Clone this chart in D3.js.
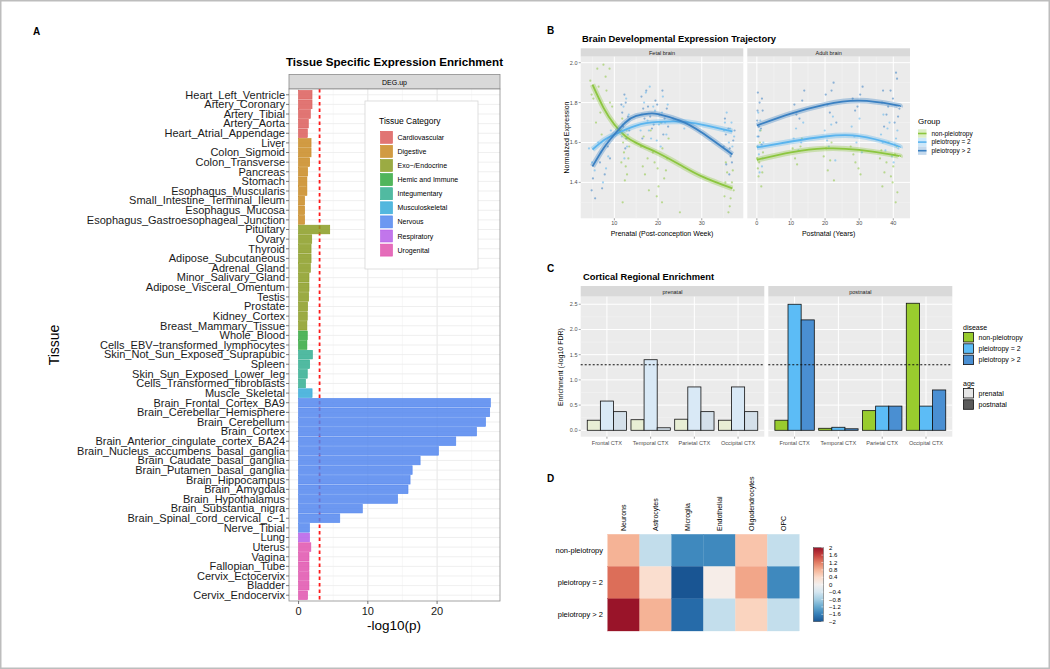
<!DOCTYPE html>
<html><head><meta charset="utf-8">
<script src="https://cdn.jsdelivr.net/npm/d3@7"></script>
<style>body{margin:0;background:#fff}svg{display:block;font-family:"Liberation Sans",Arial,sans-serif}</style>
</head><body><svg id="c" width="1050" height="669"></svg>
<script>
// ================= DATA =================
// Panel A
const tissues = ["Heart_Left_Ventricle","Artery_Coronary","Artery_Tibial","Artery_Aorta","Heart_Atrial_Appendage","Liver","Colon_Sigmoid","Colon_Transverse","Pancreas","Stomach","Esophagus_Muscularis","Small_Intestine_Terminal_Ileum","Esophagus_Mucosa","Esophagus_Gastroesophageal_Junction","Pituitary","Ovary","Thyroid","Adipose_Subcutaneous","Adrenal_Gland","Minor_Salivary_Gland","Adipose_Visceral_Omentum","Testis","Prostate","Kidney_Cortex","Breast_Mammary_Tissue","Whole_Blood","Cells_EBV\u2212transformed_lymphocytes","Skin_Not_Sun_Exposed_Suprapubic","Spleen","Skin_Sun_Exposed_Lower_leg","Cells_Transformed_fibroblasts","Muscle_Skeletal","Brain_Frontal_Cortex_BA9","Brain_Cerebellar_Hemisphere","Brain_Cerebellum","Brain_Cortex","Brain_Anterior_cingulate_cortex_BA24","Brain_Nucleus_accumbens_basal_ganglia","Brain_Caudate_basal_ganglia","Brain_Putamen_basal_ganglia","Brain_Hippocampus","Brain_Amygdala","Brain_Hypothalamus","Brain_Substantia_nigra","Brain_Spinal_cord_cervical_c\u22121","Nerve_Tibial","Lung","Uterus","Vagina","Fallopian_Tube","Cervix_Ectocervix","Bladder","Cervix_Endocervix"];
const tissueLogP = [1.94,1.94,1.7,1.4,1.26, 1.8,1.8,1.6,1.3,1.2,1.2,0.87,0.87,0.87, 4.5,1.9,1.8,1.8,1.7,1.5,1.5,1.45,1.3,1.25,1.2, 1.25,1.2, 2.0,1.6,1.25,1.0, 1.95, 27.7,27.6,27.0,25.7,22.7,20.2,17.55,16.4,16.1,15.8,14.3,9.2,5.95,1.58, 1.58, 1.77,1.5,1.5,1.5,1.5,1.3];
const tissueCategories = ["Cardiovascular","Digestive","Exo\u2212/Endocrine","Hemic and Immune","Integumentary","Musculoskeletal","Nervous","Respiratory","Urogenital"];
const tissuesPerCategory = [5,9,11,2,4,1,14,1,6];
const categoryColors = ["#dc5d5a","#c98a22","#8a9c22","#33a83e","#33ae90","#35aad8","#5286ee","#b65ee8","#e052ae"];
const thresholdA = 3.03;
const xTicksA = [0,10,20];

// Panel B
const fetalCurves = {
  "non-pleiotropy": [[5,1.89],[7.5,1.775],[10,1.69],[12.5,1.632],[15,1.598],[17.5,1.572],[20,1.547],[25,1.488],[30,1.43],[37,1.37]],
  "pleiotropy = 2": [[5,1.565],[7.5,1.61],[10,1.64],[15,1.685],[20,1.703],[25,1.705],[30,1.69],[37,1.655]],
  "pleiotropy > 2": [[5,1.48],[7.5,1.57],[10,1.64],[12.5,1.7],[15,1.733],[18,1.745],[20,1.742],[25,1.71],[30,1.65],[37,1.54]]
};
const adultCurves = {
  "non-pleiotropy": [[0,1.513],[10,1.55],[20,1.57],[30,1.563],[40,1.538],[42,1.53]],
  "pleiotropy = 2": [[0,1.575],[10,1.605],[20,1.63],[30,1.632],[40,1.59],[42,1.575]],
  "pleiotropy > 2": [[0,1.685],[10,1.745],[20,1.79],[30,1.81],[40,1.79],[42,1.78]]
};
const fetalPoints = {
  "non-pleiotropy": [[4.5,1.91],[5.2,1.82],[6.1,1.97],[6.8,1.75],[7.5,1.99],[8.2,1.86],[8.9,1.97],[5.8,1.70],[7.1,1.64],[9.5,1.78],[11.8,1.72],[12.2,1.55],[12.6,1.48],[13.0,1.62],[12.4,1.41],[11.9,1.30],[13.2,1.52],[12.8,1.66],[16.1,1.58],[17.0,1.44],[18.3,1.66],[19.2,1.50],[20.1,1.38],[21.0,1.57],[21.8,1.46],[19.7,1.33],[22.4,1.62],[17.6,1.52],[20.5,1.70],[25.0,1.25],[35.2,1.33],[35.8,1.45],[36.4,1.28],[36.9,1.40],[37.3,1.36],[35.5,1.50],[36.1,1.25],
    [4.8,1.84],[6.4,1.88],[8.0,1.93],[9.0,1.80],[12.0,1.60],[12.9,1.44],[13.4,1.58],[11.6,1.50],[16.5,1.48],[17.9,1.36],[18.8,1.55],[19.9,1.47],[21.4,1.42],[22.1,1.52],[20.9,1.30],[16.7,1.63],[35.4,1.40],[36.6,1.32],[37.1,1.46]],
  "pleiotropy = 2": [[4.2,1.57],[5.5,1.46],[6.3,1.60],[7.4,1.40],[8.6,1.53],[9.2,1.66],[11.7,1.63],[12.1,1.78],[12.5,1.70],[12.9,1.58],[13.3,1.74],[12.3,1.52],[16.0,1.66],[16.8,1.80],[17.6,1.71],[18.4,1.62],[19.3,1.76],[20.2,1.69],[21.1,1.83],[21.9,1.64],[20.6,1.58],[17.2,1.85],[23.5,1.72],[35.1,1.66],[35.7,1.75],[36.2,1.60],[36.8,1.70],[37.4,1.63],[35.9,1.56],
    [4.9,1.50],[6.9,1.55],[8.1,1.47],[11.9,1.69],[12.7,1.82],[13.1,1.64],[16.3,1.74],[17.9,1.66],[18.9,1.78],[19.7,1.61],[20.9,1.75],[21.6,1.70],[22.2,1.79],[18.1,1.88],[35.3,1.70],[36.5,1.67],[37.0,1.58],[26.0,1.67]],
  "pleiotropy > 2": [[4.8,1.36],[5.6,1.32],[6.7,1.50],[7.8,1.44],[8.5,1.58],[11.6,1.79],[12.0,1.68],[12.3,1.84],[12.7,1.62],[13.1,1.73],[12.5,1.57],[16.2,1.83],[16.9,1.72],[17.7,1.78],[18.6,1.67],[19.4,1.81],[20.3,1.74],[21.2,1.64],[22.0,1.77],[20.8,1.70],[16.4,1.62],[35.0,1.58],[35.6,1.49],[36.1,1.67],[36.6,1.53],[37.2,1.61],[36.3,1.44],[35.3,1.72],
    [5.1,1.42],[7.2,1.37],[9.0,1.52],[11.8,1.75],[12.6,1.80],[13.4,1.66],[16.6,1.77],[17.3,1.86],[18.2,1.73],[19.0,1.69],[19.8,1.79],[21.5,1.72],[22.3,1.68],[21.0,1.86],[35.5,1.64],[36.4,1.57],[36.9,1.50],[37.5,1.66]]
};
const adultPoints = {
  "non-pleiotropy": [[0.1,1.52],[0.5,1.43],[0.9,1.60],[1.3,1.38],[1.8,1.55],[0.3,1.47],[1.1,1.66],[10.5,1.57],[11.8,1.49],[13.2,1.62],[19.6,1.53],[20.8,1.46],[21.9,1.60],[22.6,1.41],[27.5,1.58],[28.9,1.50],[30.4,1.44],[36.1,1.52],[37.4,1.45],[38.6,1.60],[39.8,1.40],[40.5,1.54],[41.2,1.35],[40.0,1.48],[36.8,1.38],
    [0.2,1.58],[0.7,1.50],[1.6,1.45],[11.2,1.52],[12.8,1.58],[20.3,1.57],[21.5,1.51],[28.3,1.54],[29.8,1.47],[36.5,1.56],[38.0,1.50],[39.3,1.43],[41.0,1.58],[40.7,1.30]],
  "pleiotropy = 2": [[0.2,1.63],[0.6,1.54],[1.0,1.71],[1.5,1.48],[1.9,1.60],[0.4,1.75],[0.8,1.45],[10.8,1.62],[12.2,1.56],[13.6,1.70],[19.9,1.66],[21.1,1.58],[22.3,1.73],[23.0,1.51],[27.8,1.68],[29.2,1.60],[30.8,1.55],[36.4,1.64],[37.7,1.56],[38.9,1.70],[40.1,1.50],[40.8,1.62],[41.5,1.57],[37.1,1.74],
    [0.3,1.58],[0.9,1.66],[1.7,1.52],[11.5,1.67],[13.0,1.60],[20.6,1.61],[21.8,1.69],[28.6,1.63],[30.1,1.72],[36.9,1.60],[38.3,1.67],[39.6,1.53],[41.2,1.66],[40.4,1.59]],
  "pleiotropy > 2": [[0.1,1.71],[0.5,1.63],[0.8,1.80],[1.2,1.67],[1.7,1.76],[0.3,1.85],[1.4,1.59],[11.0,1.79],[12.5,1.72],[13.9,1.86],[20.2,1.84],[21.4,1.75],[22.5,1.90],[23.3,1.70],[28.1,1.82],[29.5,1.78],[31.0,1.88],[36.7,1.80],[38.0,1.74],[39.2,1.86],[40.4,1.70],[41.1,1.92],[41.8,1.77],[37.3,1.68],
    [0.2,1.76],[0.6,1.68],[1.5,1.82],[11.6,1.74],[13.3,1.81],[20.7,1.79],[21.9,1.86],[28.8,1.76],[30.3,1.84],[37.0,1.86],[38.5,1.78],[39.9,1.82],[41.4,1.73],[40.8,1.95]]
};
const groups = ["non-pleiotropy","pleiotropy = 2","pleiotropy > 2"];
const groupColors = ["#8cc63f","#5ab4ee","#3a80c2"];
const fetalTicks = [10,20,30];
const adultTicks = [0,10,20,30,40];
const yTicksB = [1.4,1.6,1.8,2.0];

// Panel C
const regions = ["Frontal CTX","Temporal CTX","Parietal CTX","Occipital CTX"];
const prenatalEnrich = { "non-pleiotropy":[0.2,0.21,0.22,0.2], "pleiotropy = 2":[0.58,1.4,0.86,0.86], "pleiotropy > 2":[0.37,0.05,0.37,0.37] };
const postnatalEnrich = { "non-pleiotropy":[0.2,0.04,0.39,2.52], "pleiotropy = 2":[2.5,0.06,0.48,0.48], "pleiotropy > 2":[2.19,0.03,0.48,0.8] };
const diseaseColors = ["#99cc2e","#5cbcf6","#4a8fd2"];
const prenatalFills = ["#e8eed4","#d9e9f6","#d4e0ea"];
const fdrLine = 1.3;
const yTicksC = [0,0.5,1,1.5,2,2.5];

// Panel D
const cellTypes = ["Neurons","Astrocytes","Microglia","Endothelial","Oligodendrocytes","OPC"];
const heatRows = ["non-pleiotropy","pleiotropy = 2","pleiotropy > 2"];
const heatValues = [
  [0.8,-0.56,-1.5,-1.5,0.65,-0.55],
  [1.3,0.37,-2.0,0.1,0.9,-1.5],
  [2.0,0.8,-1.8,-0.55,0.5,-0.55]
];
const legendTicksD = [2,1.6,1.2,0.8,0.4,0,-0.4,-0.8,-1.2,-1.6,-2];

// ================= DRAW =================
const svg = d3.select("#c");
svg.append("rect").attr("x",0.75).attr("y",0.75).attr("width",1048.5).attr("height",667.5).attr("fill","#fff").attr("stroke","#bdbdbd").attr("stroke-width",1.5);
const fmtMinus = s => String(s).replace("-", "\u2212");
function txt(g, x, y, s, o={}) {
  const t = g.append("text").attr("x",x).attr("y",y).text(s)
    .attr("font-size",o.size||8).attr("fill",o.fill||"#000")
    .attr("text-anchor",o.anchor||"start");
  if (o.bold) t.attr("font-weight","bold");
  if (o.rotate) t.attr("transform",`rotate(${o.rotate},${x},${y})`);
  if (o.len) t.attr("textLength",o.len).attr("lengthAdjust","spacingAndGlyphs");
  return t;
}
// panel letters
txt(svg,33,35,"A",{size:10,bold:true});
txt(svg,547,34,"B",{size:10,bold:true});
txt(svg,547,272,"C",{size:10,bold:true});
txt(svg,547,482,"D",{size:10,bold:true});

// ---------- Panel A ----------
(function(){
  const g = svg.append("g");
  const L=289,R=500,T=89,B=601;
  const x = d3.scaleLinear().domain([-1.385,29.085]).range([L,R]);
  const y = d3.scaleBand().domain(tissues).range([T,B]).paddingInner(0.1).paddingOuter(0.15);
  const catOf = [];
  tissuesPerCategory.forEach((n,i)=>{ for(let k=0;k<n;k++) catOf.push(i); });
  txt(g,394.5,66,"Tissue Specific Expression Enrichment",{size:11.5,bold:true,anchor:"middle",len:217});
  g.append("rect").attr("x",L).attr("y",74.5).attr("width",R-L).attr("height",T-74.5).attr("fill","#d9d9d9").attr("stroke","#8c8c8c").attr("stroke-width",0.8);
  txt(g,(L+R)/2,84.5,"DEG.up",{size:7,anchor:"middle"});
  g.append("rect").attr("x",L).attr("y",T).attr("width",R-L).attr("height",B-T).attr("fill","#fff");
  [5,15,25].forEach(v=>g.append("line").attr("x1",x(v)).attr("x2",x(v)).attr("y1",T).attr("y2",B).attr("stroke","#f3f3f3").attr("stroke-width",0.6));
  xTicksA.forEach(v=>g.append("line").attr("x1",x(v)).attr("x2",x(v)).attr("y1",T).attr("y2",B).attr("stroke","#e6e6e6").attr("stroke-width",1));
  tissues.forEach(t=>{const c=y(t)+y.bandwidth()/2; g.append("line").attr("x1",L).attr("x2",R).attr("y1",c).attr("y2",c).attr("stroke","#ebebeb").attr("stroke-width",0.8);});
  g.append("line").attr("x1",x(thresholdA)).attr("x2",x(thresholdA)).attr("y1",T).attr("y2",B).attr("stroke","#ff1a1a").attr("stroke-width",1.8).attr("stroke-dasharray","3.5,3");
  g.selectAll(".barA").data(tissues).enter().append("rect")
    .attr("x",x(0)).attr("y",d=>y(d)).attr("height",y.bandwidth())
    .attr("width",(d,i)=>x(tissueLogP[i])-x(0))
    .attr("fill",(d,i)=>categoryColors[catOf[i]]).attr("fill-opacity",0.85)
    .attr("stroke",(d,i)=>categoryColors[catOf[i]]).attr("stroke-width",0.6);
  g.append("rect").attr("x",L).attr("y",T).attr("width",R-L).attr("height",B-T).attr("fill","none").attr("stroke","#8c8c8c").attr("stroke-width",0.8);
  tissues.forEach(t=>{const c=y(t)+y.bandwidth()/2;
    g.append("line").attr("x1",L-3).attr("x2",L).attr("y1",c).attr("y2",c).attr("stroke","#555").attr("stroke-width",0.8);
    txt(g,L-4,c+3.8,t,{size:11,anchor:"end",fill:"#1a1a1a"});
  });
  xTicksA.forEach(v=>{
    g.append("line").attr("x1",x(v)).attr("x2",x(v)).attr("y1",B).attr("y2",B+3).attr("stroke","#555").attr("stroke-width",0.8);
    txt(g,x(v),615,String(v),{size:11,anchor:"middle",fill:"#1a1a1a"});
  });
  txt(g,394,630,"-log10(p)",{size:13.5,anchor:"middle"});
  txt(g,59,345,"Tissue",{size:14,anchor:"middle",rotate:-90});
  g.append("rect").attr("x",365).attr("y",101).attr("width",113).attr("height",168).attr("fill","#fff").attr("stroke","#d6d6d6").attr("stroke-width",0.8);
  txt(g,379,124,"Tissue Category",{size:8.5});
  tissueCategories.forEach((c,i)=>{
    const cy = 137.3 + i*14.1;
    g.append("rect").attr("x",380.5).attr("y",cy-6).attr("width",12).attr("height",12)
      .attr("fill",categoryColors[i]).attr("fill-opacity",0.85).attr("stroke",categoryColors[i]).attr("stroke-width",0.6);
    txt(g,397.5,cy+2.5,c,{size:7});
  });
})();

// ---------- Panel B ----------
(function(){
  const g = svg.append("g");
  const T=56.7,B=218.3;
  const y = d3.scaleLinear().domain([1.22,2.03]).range([B,T]);
  const facets = [
    {L:580.7,R:743.3,dom:[2.3,39.5],ticks:fetalTicks,minor:[5,15,25,35],name:"Fetal brain",curves:fetalCurves,pts:fetalPoints,title:"Prenatal (Post-conception Week)"},
    {L:747.3,R:910,dom:[-2.8,44.9],ticks:adultTicks,minor:[5,15,25,35],name:"Adult brain",curves:adultCurves,pts:adultPoints,title:"Postnatal (Years)"}
  ];
  txt(g,582,42,"Brain Developmental Expression Trajectory",{size:9.5,bold:true,len:194});
  facets.forEach(f=>{
    const x = d3.scaleLinear().domain(f.dom).range([f.L,f.R]);
    g.append("rect").attr("x",f.L).attr("y",48.3).attr("width",f.R-f.L).attr("height",8.4).attr("fill","#d9d9d9");
    txt(g,(f.L+f.R)/2,54.8,f.name,{size:5.5,anchor:"middle",fill:"#1a1a1a"});
    g.append("rect").attr("x",f.L).attr("y",T).attr("width",f.R-f.L).attr("height",B-T).attr("fill","#ebebeb");
    [1.3,1.5,1.7,1.9].forEach(v=>g.append("line").attr("x1",f.L).attr("x2",f.R).attr("y1",y(v)).attr("y2",y(v)).attr("stroke","#f5f5f5").attr("stroke-width",0.5));
    f.minor.forEach(v=>g.append("line").attr("x1",x(v)).attr("x2",x(v)).attr("y1",T).attr("y2",B).attr("stroke","#f5f5f5").attr("stroke-width",0.5));
    yTicksB.forEach(v=>g.append("line").attr("x1",f.L).attr("x2",f.R).attr("y1",y(v)).attr("y2",y(v)).attr("stroke","#fff").attr("stroke-width",1));
    f.ticks.forEach(v=>g.append("line").attr("x1",x(v)).attr("x2",x(v)).attr("y1",T).attr("y2",B).attr("stroke","#fff").attr("stroke-width",1));
    groups.forEach((gr,i)=>{
      g.selectAll(null).data(f.pts[gr]).enter().append("circle")
        .attr("cx",d=>x(d[0])).attr("cy",d=>y(d[1])).attr("r",1.1)
        .attr("fill",groupColors[i]).attr("fill-opacity",0.55);
    });
    const line = d3.line().x(d=>x(d[0])).y(d=>y(d[1])).curve(d3.curveNatural);
    groups.forEach((gr,i)=>{
      g.append("path").attr("d",line(f.curves[gr])).attr("fill","none").attr("stroke",groupColors[i]).attr("stroke-opacity",0.35).attr("stroke-width",5.5);
      g.append("path").attr("d",line(f.curves[gr])).attr("fill","none").attr("stroke",groupColors[i]).attr("stroke-width",1.8);
    });
    f.ticks.forEach(v=>{
      g.append("line").attr("x1",x(v)).attr("x2",x(v)).attr("y1",B).attr("y2",B+2).attr("stroke","#444").attr("stroke-width",0.5);
      txt(g,x(v),224.5,String(v),{size:5.5,anchor:"middle",fill:"#4d4d4d"});
    });
    txt(g,(f.L+f.R)/2,236,f.title,{size:7,anchor:"middle"});
  });
  yTicksB.forEach(v=>{
    g.append("line").attr("x1",578.7).attr("x2",580.7).attr("y1",y(v)).attr("y2",y(v)).attr("stroke","#444").attr("stroke-width",0.5);
    txt(g,577.5,y(v)+2,v.toFixed(1),{size:5.5,anchor:"end",fill:"#4d4d4d"});
  });
  txt(g,569,137.5,"Normalized Expression",{size:7,anchor:"middle",rotate:-90});
  txt(g,918,124,"Group",{size:8});
  groups.forEach((gr,i)=>{
    const cy = 133.5 + i*8.6;
    g.append("rect").attr("x",918).attr("y",cy-4.2).attr("width",8.5).attr("height",8.4).attr("fill",groupColors[i]).attr("fill-opacity",0.3);
    g.append("line").attr("x1",918).attr("x2",926.5).attr("y1",cy).attr("y2",cy).attr("stroke",groupColors[i]).attr("stroke-width",1.6);
    txt(g,931.5,cy+2.3,gr,{size:6.5});
  });
})();

// ---------- Panel C ----------
(function(){
  const g = svg.append("g");
  const T=296.7,B=436.7;
  const y = d3.scaleLinear().domain([-0.127,2.65]).range([B,T]);
  const facets = [
    {L:580.7,R:764.3,name:"prenatal",vals:prenatalEnrich,fills:prenatalFills},
    {L:768.3,R:952.3,name:"postnatal",vals:postnatalEnrich,fills:diseaseColors}
  ];
  txt(g,583,280,"Cortical Regional Enrichment",{size:9.5,bold:true,len:131});
  facets.forEach(f=>{
    const x = d3.scaleBand().domain(regions).range([f.L,f.R]).paddingInner(0).paddingOuter(0.1);
    const sub = d3.scaleBand().domain(groups).range([0,x.bandwidth()*0.9]);
    g.append("rect").attr("x",f.L).attr("y",286).attr("width",f.R-f.L).attr("height",T-286).attr("fill","#d9d9d9");
    txt(g,(f.L+f.R)/2,293.5,f.name,{size:5.5,anchor:"middle",fill:"#1a1a1a"});
    g.append("rect").attr("x",f.L).attr("y",T).attr("width",f.R-f.L).attr("height",B-T).attr("fill","#ebebeb");
    [0.25,0.75,1.25,1.75,2.25].forEach(v=>g.append("line").attr("x1",f.L).attr("x2",f.R).attr("y1",y(v)).attr("y2",y(v)).attr("stroke","#f5f5f5").attr("stroke-width",0.5));
    yTicksC.forEach(v=>g.append("line").attr("x1",f.L).attr("x2",f.R).attr("y1",y(v)).attr("y2",y(v)).attr("stroke","#fff").attr("stroke-width",1));
    regions.forEach(r=>{const c=x(r)+x.bandwidth()/2; g.append("line").attr("x1",c).attr("x2",c).attr("y1",T).attr("y2",B).attr("stroke","#fff").attr("stroke-width",1);});
    regions.forEach((r,ri)=>{
      const x0 = x(r)+x.bandwidth()*0.05;
      groups.forEach((gr,gi)=>{
        const v=f.vals[gr][ri];
        g.append("rect").attr("x",x0+sub(gr)).attr("y",y(v)).attr("width",sub.bandwidth()).attr("height",y(0)-y(v))
          .attr("fill",f.fills[gi]).attr("stroke","#111").attr("stroke-width",0.8);
      });
      const c=x(r)+x.bandwidth()/2;
      g.append("line").attr("x1",c).attr("x2",c).attr("y1",B).attr("y2",B+2).attr("stroke","#444").attr("stroke-width",0.5);
      txt(g,c,445,r,{size:5.6,anchor:"middle",fill:"#4d4d4d"});
    });
    g.append("line").attr("x1",f.L).attr("x2",f.R).attr("y1",y(fdrLine)).attr("y2",y(fdrLine)).attr("stroke","#111").attr("stroke-width",1).attr("stroke-dasharray","2,2");
  });
  yTicksC.forEach(v=>{
    g.append("line").attr("x1",578.7).attr("x2",580.7).attr("y1",y(v)).attr("y2",y(v)).attr("stroke","#444").attr("stroke-width",0.5);
    txt(g,577.5,y(v)+2,v.toFixed(1),{size:5.5,anchor:"end",fill:"#4d4d4d"});
  });
  txt(g,563,367,"Enrichment (-log10 FDR)",{size:7,anchor:"middle",rotate:-90});
  txt(g,963,330,"disease",{size:7});
  groups.forEach((gr,i)=>{
    const yy = 332.5 + i*11.3;
    g.append("rect").attr("x",963.5).attr("y",yy).attr("width",10).attr("height",9.5).attr("fill",diseaseColors[i]).attr("stroke","#111").attr("stroke-width",0.8);
    txt(g,978.5,yy+7.3,gr,{size:7});
  });
  txt(g,963,386,"age",{size:7});
  [["prenatal","#e6e6e6"],["postnatal","#5a5a5a"]].forEach((a,i)=>{
    const yy = 388.5 + i*11.3;
    g.append("rect").attr("x",963.5).attr("y",yy).attr("width",10).attr("height",9.5).attr("fill",a[1]).attr("stroke","#111").attr("stroke-width",0.8);
    txt(g,978.5,yy+7.3,a[0],{size:7});
  });
})();

// ---------- Panel D ----------
(function(){
  const g = svg.append("g");
  const L=607.7,R=799.3,T=534.3,B=631;
  const x = d3.scaleBand().domain(cellTypes).range([L,R]);
  const y = d3.scaleBand().domain(heatRows).range([T,B]);
  const tOf = d3.scaleLinear().domain([2,-2]).range([0.07,0.93]).clamp(true);
  const color = v => d3.interpolateRdBu(tOf(v));
  heatRows.forEach((r,ri)=>cellTypes.forEach((c,ci)=>{
    g.append("rect").attr("x",x(c)).attr("y",y(r)).attr("width",x.bandwidth()).attr("height",y.bandwidth())
      .attr("fill",color(heatValues[ri][ci])).attr("stroke",color(heatValues[ri][ci])).attr("stroke-width",0.3);
  }));
  cellTypes.forEach(c=>{
    const cx = x(c)+x.bandwidth()/2+2.5;
    txt(g,cx,531,c,{size:7,anchor:"start",rotate:-90});
  });
  heatRows.forEach(r=>txt(g,603,y(r)+y.bandwidth()/2+2.6,r,{size:7.5,anchor:"end"}));
  const cb = d3.scaleLinear().domain([2,-2]).range([547.7,621.7]);
  const defs = svg.append("defs");
  const grad = defs.append("linearGradient").attr("id","rdbu").attr("x1",0).attr("x2",0).attr("y1",0).attr("y2",1);
  d3.range(0,1.0001,0.1).forEach(t=>grad.append("stop").attr("offset",t).attr("stop-color",color(2-4*t)));
  g.append("rect").attr("x",813.3).attr("y",547.7).attr("width",10).attr("height",74).attr("fill","url(#rdbu)").attr("stroke","#444").attr("stroke-width",0.5);
  legendTicksD.forEach(v=>{
    g.append("line").attr("x1",821.3).attr("x2",823.3).attr("y1",cb(v)).attr("y2",cb(v)).attr("stroke","#fff").attr("stroke-width",0.5);
    txt(g,829,cb(v)+2,fmtMinus(v),{size:6});
  });
})();
</script></body></html>
